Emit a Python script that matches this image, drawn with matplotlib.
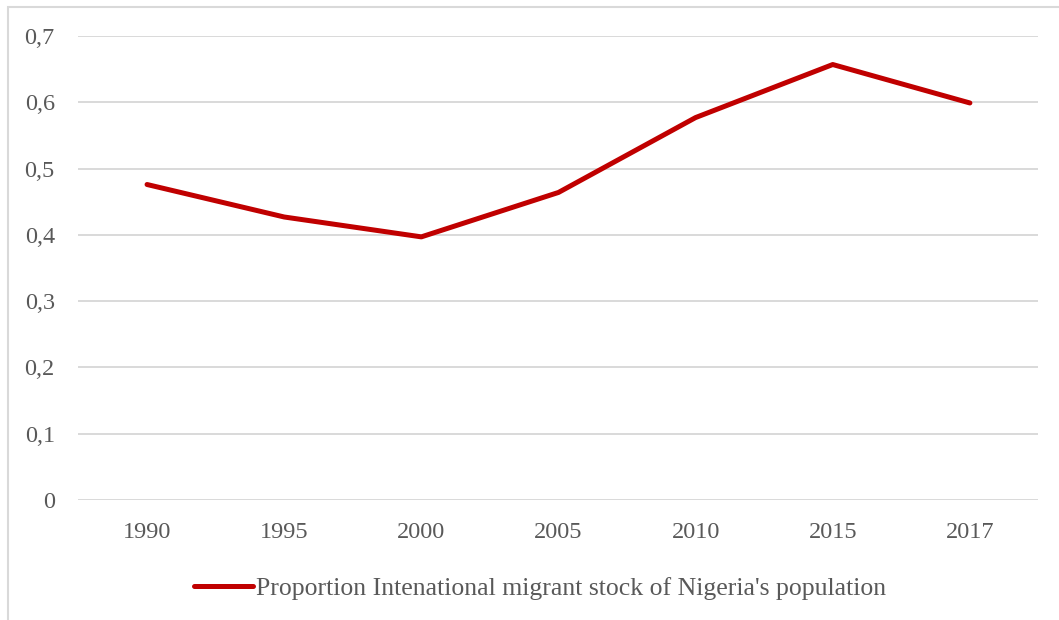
import matplotlib
matplotlib.use('Agg')
import matplotlib.pyplot as plt
from matplotlib.patches import Rectangle

years = ['1990', '1995', '2000', '2005', '2010', '2015', '2017']
share = [0.476, 0.427, 0.397, 0.464, 0.577, 0.657, 0.599]
yticks = [0, 0.1, 0.2, 0.3, 0.4, 0.5, 0.6, 0.7]
ylabels = ['0', '0,1', '0,2', '0,3', '0,4', '0,5', '0,6', '0,7']
label = "Proportion Intenational migrant stock of Nigeria's population"

plt.rcParams['font.family'] = ['Liberation Serif', 'DejaVu Serif']
grey = '#595959'

fig = plt.figure(figsize=(10.59, 6.2), dpi=100)
fig.patches.append(Rectangle((8 / 1059, -0.1), 1.2, (620 - 7) / 620 + 0.1,
                             transform=fig.transFigure, fill=False,
                             edgecolor='#d9d9d9', linewidth=1.5))
ax = fig.add_axes([0.0741, 0.1935, 0.9065, 0.7484])

x = range(len(years))
ax.plot(x, share, color='#C00000', linewidth=3.6, solid_capstyle='round',
        solid_joinstyle='round', label=label, zorder=3)

ax.set_xlim(-0.5, len(years) - 0.5)
ax.set_ylim(0, 0.7)
ax.set_xticks(list(x))
ax.set_xticklabels(years)
ax.set_yticks(yticks)
ax.set_yticklabels(ylabels)
ax.grid(axis='y', color='#d9d9d9', linewidth=1.4)
ax.set_axisbelow(True)
for s in ax.spines.values():
    s.set_visible(False)
ax.tick_params(length=0, labelsize=17.5, labelcolor=grey)
ax.tick_params(axis='x', pad=16)
ax.tick_params(axis='y', pad=17)

leg = ax.legend(loc='upper center', bbox_to_anchor=(0.481, -0.115), frameon=False,
                fontsize=18.5, handlelength=2.3, handletextpad=0.1)
for t in leg.get_texts():
    t.set_color(grey)

fig.savefig('out.png', dpi=100)
